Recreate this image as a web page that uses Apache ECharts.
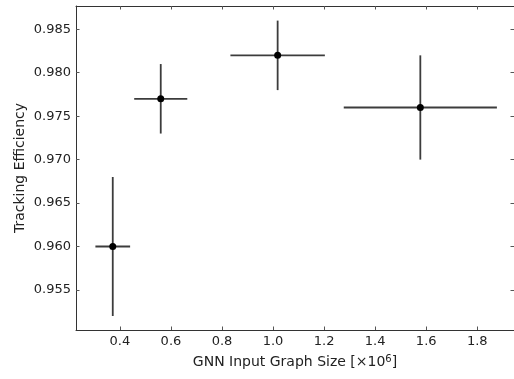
<!DOCTYPE html>
<html>
<head>
<meta charset="utf-8">
<script src="https://cdn.jsdelivr.net/npm/echarts@6/dist/echarts.min.js"></script>
<style>
  html, body { margin: 0; padding: 0; background: #fff; }
  #chart { width: 514px; height: 379px; }
</style>
</head>
<body>
<div id="chart"></div>
<script>
// Data
const xValues = [0.372, 0.560, 1.018, 1.577];
const xErrors = [0.068, 0.104, 0.185, 0.300];
const yValues = [0.960, 0.977, 0.982, 0.976];
const yErrors = [0.008, 0.004, 0.004, 0.006];

const xTicks = [0.4, 0.6, 0.8, 1.0, 1.2, 1.4, 1.6, 1.8];
const yTicks = [0.955, 0.960, 0.965, 0.970, 0.975, 0.980, 0.985];

const xRange = [0.228, 1.944];
const yRange = [0.95039, 0.98768];

const points = xValues.map((x, i) => [x, yValues[i], xErrors[i], yErrors[i]]);

const FONT = 'DejaVu Sans';
const textColor = '#222';
const axisColor = '#333';

function xAxisDef(pos, showLabel) {
  return {
    type: 'value', position: pos, min: xRange[0], max: xRange[1],
    axisLine: { show: true, onZero: false, lineStyle: { color: axisColor, width: 1 } },
    axisTick: { show: true, inside: true, length: 3.5, customValues: xTicks, lineStyle: { color: '#555', width: 1 } },
    axisLabel: { show: showLabel, customValues: xTicks, formatter: v => v.toFixed(1),
      fontFamily: FONT, fontSize: 13, color: textColor, margin: 5 },
    splitLine: { show: false },
    name: showLabel ? 'GNN Input Graph Size [×10{s|6}]' : '',
    nameLocation: 'middle', nameGap: 24, nameMoveOverlap: false,
    nameTextStyle: { fontFamily: FONT, fontSize: 14, color: textColor,
      rich: { s: { fontFamily: FONT, fontSize: 10, color: textColor, verticalAlign: 'top', padding: [0, 0, 6, 0] } } }
  };
}
function yAxisDef(pos, showLabel) {
  return {
    type: 'value', position: pos, min: yRange[0], max: yRange[1],
    axisLine: { show: true, onZero: false, lineStyle: { color: axisColor, width: 1 } },
    axisTick: { show: true, inside: true, length: 3.5, customValues: yTicks, lineStyle: { color: '#555', width: 1 } },
    axisLabel: { show: showLabel, customValues: yTicks, formatter: v => v.toFixed(3),
      fontFamily: FONT, fontSize: 13, color: textColor, margin: 5 },
    splitLine: { show: false },
    name: showLabel ? 'Tracking Efficiency' : '',
    nameLocation: 'middle', nameGap: 49, nameRotate: 90, nameMoveOverlap: false,
    nameTextStyle: { fontFamily: FONT, fontSize: 14, color: textColor }
  };
}

const chart = echarts.init(document.getElementById('chart'), null, { renderer: 'canvas' });
chart.setOption({
  animation: false,
  backgroundColor: '#fff',
  grid: { left: 76, top: 6, right: -2, bottom: 49 },
  xAxis: [xAxisDef('bottom', true), xAxisDef('top', false)],
  yAxis: [yAxisDef('left', true), yAxisDef('right', false)],
  series: [{
    type: 'custom',
    xAxisIndex: 0, yAxisIndex: 0,
    data: points,
    renderItem: function (params, api) {
      const x = api.value(0), y = api.value(1), ex = api.value(2), ey = api.value(3);
      const c = api.coord([x, y]);
      const l = api.coord([x - ex, y]);
      const r = api.coord([x + ex, y]);
      const t = api.coord([x, y + ey]);
      const b = api.coord([x, y - ey]);
      const ls = { stroke: '#3c3c3c', lineWidth: 1.8 };
      return {
        type: 'group',
        children: [
          { type: 'line', shape: { x1: l[0], y1: l[1], x2: r[0], y2: r[1] }, style: ls },
          { type: 'line', shape: { x1: t[0], y1: t[1], x2: b[0], y2: b[1] }, style: ls },
          { type: 'circle', shape: { cx: c[0], cy: c[1], r: 3.5 }, style: { fill: '#000' } }
        ]
      };
    }
  }]
});
</script>
</body>
</html>
